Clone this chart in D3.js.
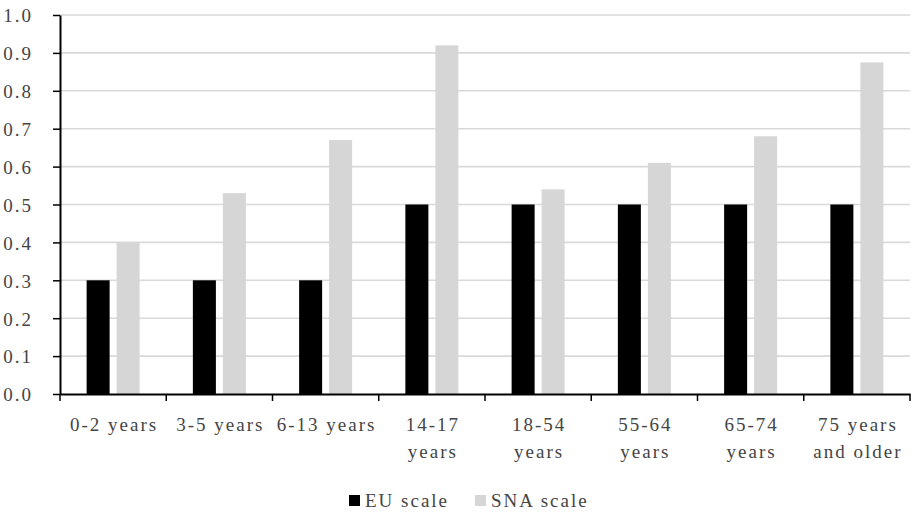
<!DOCTYPE html>
<html><head><meta charset="utf-8">
<script src="https://cdn.jsdelivr.net/npm/d3@7"></script>
<style>
html,body{margin:0;padding:0;background:#fff;}
</style></head>
<body>
<svg id="chart" width="912" height="514"></svg>
<script>
const categories = [["0-2 years"],["3-5 years"],["6-13 years"],["14-17","years"],["18-54","years"],["55-64","years"],["65-74","years"],["75 years","and older"]];
const seriesNames = ["EU scale","SNA scale"];
const euValues = [0.3,0.3,0.3,0.5,0.5,0.5,0.5,0.5];
const snaValues = [0.40,0.53,0.67,0.92,0.54,0.61,0.68,0.875];
const yTicks = [0,0.1,0.2,0.3,0.4,0.5,0.6,0.7,0.8,0.9,1.0];
const colors = ["#000000","#d6d6d6"];
const FONT = "Liberation Serif";
const TXT = "#454545";

const svg = d3.select("#chart");
const pLeft = 60, pRight = 910, pTop = 15, pBottom = 394;
const catKeys = categories.map(c => c.join(" "));
const x = d3.scaleBand().domain(catKeys).range([pLeft, pRight]).paddingInner(0).paddingOuter(0);
const xs = d3.scaleBand().domain(seriesNames).range([0, x.bandwidth()]).paddingInner(0.233).paddingOuter(0.8875);
const y = d3.scaleLinear().domain([0,1]).range([pBottom, pTop]);

function styleText(sel){
  sel.style("font-family", FONT).style("font-size","19px").style("letter-spacing","2px").style("fill", TXT);
}

// gridlines
svg.append("g").selectAll("line").data(yTicks.filter(d=>d>0)).join("line")
  .attr("x1", pLeft).attr("x2", pRight).attr("y1", d=>y(d)).attr("y2", d=>y(d))
  .attr("stroke","#d9d9d9").attr("stroke-width",1.6);

// bars
const data = categories.map((c,i)=>({key:catKeys[i], vals:[euValues[i], snaValues[i]]}));
const g = svg.append("g").selectAll("g").data(data).join("g")
  .attr("transform", d=>`translate(${x(d.key)},0)`);
g.selectAll("rect").data(d=>d.vals.map((v,j)=>({s:seriesNames[j], v, j}))).join("rect")
  .attr("x", d=>xs(d.s)).attr("width", xs.bandwidth())
  .attr("y", d=>y(d.v)).attr("height", d=>y(0)-y(d.v))
  .attr("fill", d=>colors[d.j]);

// y axis
const yAxis = svg.append("g").attr("transform",`translate(${pLeft},0)`)
  .call(d3.axisLeft(y).tickValues(yTicks).tickFormat(d3.format(".1f")).tickSize(7).tickSizeOuter(0).tickPadding(20));
yAxis.select(".domain").attr("stroke","#000").attr("stroke-width",2);
yAxis.selectAll(".tick line").attr("stroke","#000").attr("stroke-width",1.5);
yAxis.selectAll("text").call(styleText).attr("dy","0.36em");

// x axis
const xAxis = svg.append("g").attr("transform",`translate(0,${pBottom})`)
  .call(d3.axisBottom(x).tickSize(0).tickFormat(""));
xAxis.select(".domain").attr("stroke","#000").attr("stroke-width",2);
xAxis.selectAll(".tick line").remove();
const bounds = catKeys.map(k=>x(k)).concat([pRight]);
xAxis.selectAll(".bline").data(bounds).join("line").attr("class","bline")
  .attr("x1",d=>d).attr("x2",d=>d).attr("y1",0).attr("y2",7)
  .attr("stroke","#000").attr("stroke-width",1.5);

const labels = svg.append("g");
categories.forEach((lines,i)=>{
  const cx = x(catKeys[i]) + x.bandwidth()/2 + 1;
  const t = labels.append("text").attr("x",cx).attr("y",431).attr("text-anchor","middle").call(styleText);
  lines.forEach((ln,k)=>{
    t.append("tspan").attr("x",cx).attr("dy", k===0?0:27).text(ln);
  });
});

// legend
const legend = svg.append("g");
const legItems = [{x:349, tx:365},{x:475, tx:491}];
seriesNames.forEach((s,i)=>{
  legend.append("rect").attr("x",legItems[i].x).attr("y",495).attr("width",11).attr("height",11).attr("fill",colors[i]);
  legend.append("text").attr("x",legItems[i].tx).attr("y",507).call(styleText).text(s);
});
</script>
</body></html>
